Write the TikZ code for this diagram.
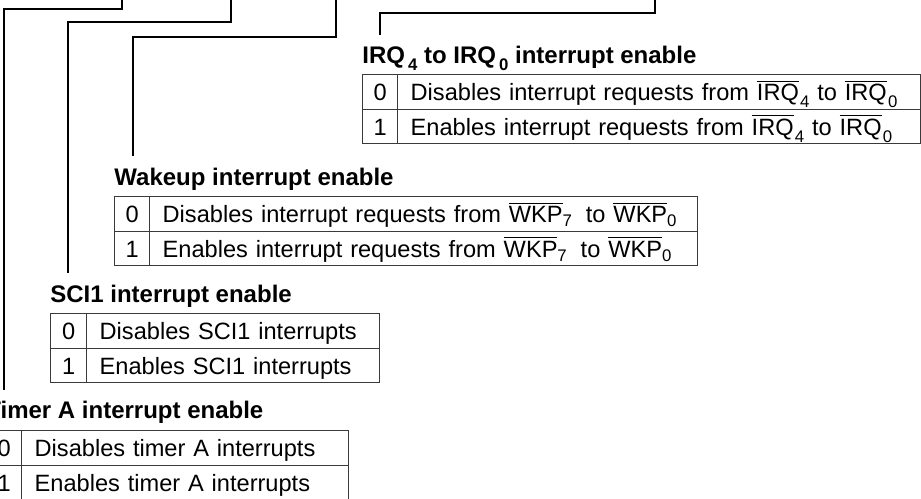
\documentclass[tikz,border=0pt]{standalone}
\usepackage{fontspec}
\setmainfont{Liberation Sans}
\definecolor{tcol}{HTML}{3A3A3A}
\newcommand{\ovl}[1]{\vbox{\hrule height 0.55pt\kern1.4pt\hbox{#1}}}
\newcommand{\lowsub}[2]{\raisebox{-#1}{\fontsize{8.4pt}{9pt}\selectfont #2}}
\begin{document}
\begin{tikzpicture}[x=0.5pt,y=-0.5pt,
  conn/.style={draw=black, line width=0.55pt},
  ttl/.style={anchor=base west, inner sep=0pt, font=\fontsize{12pt}{14pt}\selectfont\bfseries},
  cellbase/.style={draw=tcol, line width=0.7pt, anchor=north west, inner ysep=0pt,
    text height=13.1pt, text depth=4.15pt, font=\fontsize{11.8pt}{14pt}\selectfont},
  numcell/.style={cellbase, inner xsep=0pt, minimum width=17.5pt},
  txtcell/.style={cellbase, inner xsep=6.5pt, align=left}]
\useasboundingbox (0,0) rectangle (921,498);
\clip (0,0) rectangle (921,498);

% connector coordinates
\coordinate (aTop) at (122,-2); \coordinate (aKnee) at (122,9);  \coordinate (aEnd) at (4,390);
\coordinate (bTop) at (231,-2); \coordinate (bKnee) at (231,22); \coordinate (bEnd) at (68,273);
\coordinate (cTop) at (336,-2); \coordinate (cKnee) at (336,37); \coordinate (cEnd) at (133,156);
\coordinate (dTop) at (655,-2); \coordinate (dKnee) at (655,13); \coordinate (dEnd) at (380,35);
\draw[conn] (aTop) -- (aKnee) -| (aEnd);
\draw[conn] (bTop) -- (bKnee) -| (bEnd);
\draw[conn] (cTop) -- (cKnee) -| (cEnd);
\draw[conn] (dTop) -- (dKnee) -| (dEnd);

% IRQ block
\node[ttl] (irqT) at (362,63.5) {IRQ\kern1.5pt\lowsub{3.5pt}{4} to IRQ\kern1.5pt\lowsub{3.5pt}{0} interrupt enable};
\node[numcell] (irq0n) at (362,74) {0};
\node[numcell] (irq1n) at (362,108.5) {1};
\node[txtcell, text width=248.5pt] (irq0t) at (397,74) {\mbox{Disables interrupt requests from \ovl{IRQ}\kern0.6pt\lowsub{3.5pt}{4} to \ovl{IRQ}\kern0.6pt\lowsub{3.5pt}{0}}};
\node[txtcell, text width=248.5pt] (irq1t) at (397,108.5) {\mbox{Enables interrupt requests from \ovl{IRQ}\kern0.6pt\lowsub{3.5pt}{4} to \ovl{IRQ}\kern0.6pt\lowsub{3.5pt}{0}}};

% Wakeup block
\node[ttl] (wkpT) at (114,185) {Wakeup interrupt enable};
\node[numcell] (wkp0n) at (114,196) {0};
\node[numcell] (wkp1n) at (114,230.5) {1};
\node[txtcell, text width=261pt] (wkp0t) at (149,196) {\mbox{Disables interrupt requests from \ovl{WKP}\lowsub{2pt}{7}\kern3pt\ to \ovl{WKP}\lowsub{2pt}{0}}};
\node[txtcell, text width=261pt] (wkp1t) at (149,230.5) {\mbox{Enables interrupt requests from \ovl{WKP}\lowsub{2pt}{7}\kern3pt\ to \ovl{WKP}\lowsub{2pt}{0}}};

% SCI1 block
\node[ttl] (sciT) at (50,302) {SCI1 interrupt enable};
\node[numcell, minimum width=18pt] (sci0n) at (50,313) {0};
\node[numcell, minimum width=18pt] (sci1n) at (50,347.5) {1};
\node[txtcell, text width=133.5pt] (sci0t) at (86,313) {\mbox{Disables SCI1 interrupts}};
\node[txtcell, text width=133.5pt] (sci1t) at (86,347.5) {\mbox{Enables SCI1 interrupts}};

% Timer A block
\node[ttl] (tmaT) at (-14,418) {Timer A interrupt enable};
\node[numcell] (tma0n) at (-14,430) {0};
\node[numcell] (tma1n) at (-14,464.5) {1};
\node[txtcell, text width=150.5pt] (tma0t) at (21,430) {\mbox{Disables timer A interrupts}};
\node[txtcell, text width=150.5pt] (tma1t) at (21,464.5) {\mbox{Enables timer A interrupts}};
\end{tikzpicture}
\end{document}
